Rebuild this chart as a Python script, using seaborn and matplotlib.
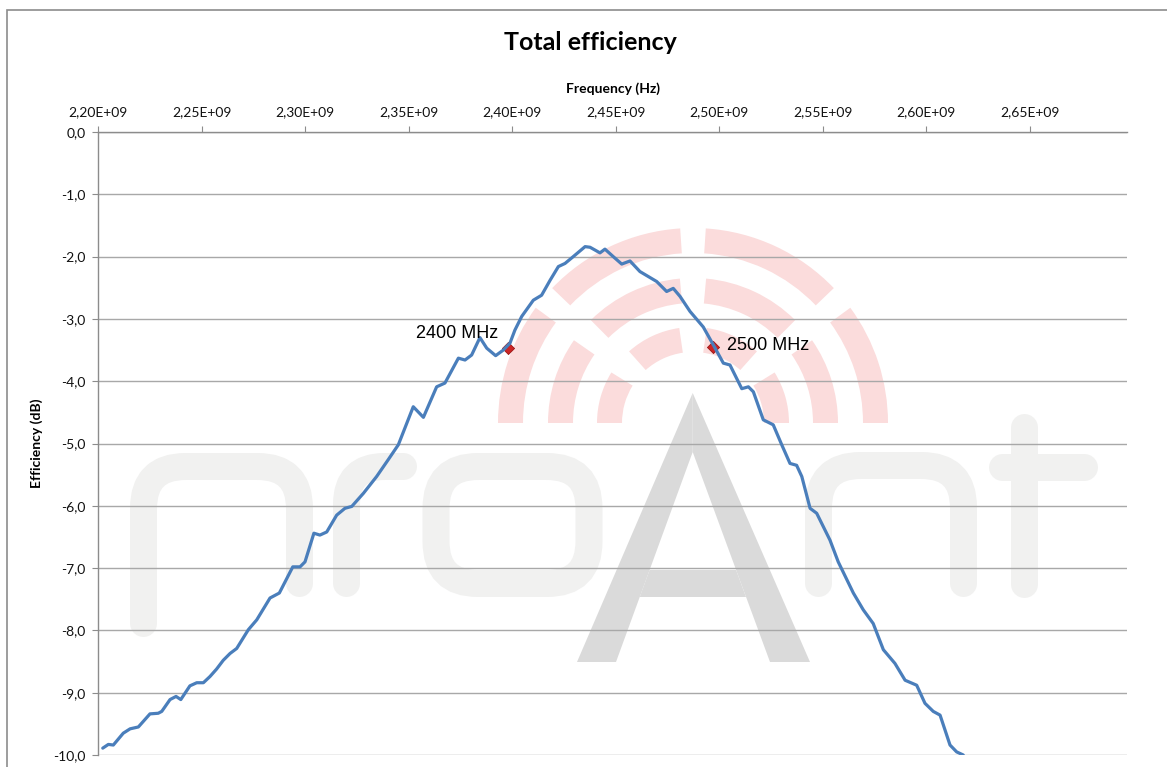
import numpy as np
import pandas as pd
import matplotlib
matplotlib.use("Agg")
import matplotlib.pyplot as plt
import seaborn as sns
from matplotlib.patches import Wedge, Polygon, Rectangle, PathPatch, FancyBboxPatch
from matplotlib.path import Path
from matplotlib.transforms import Affine2D
from matplotlib.ticker import FixedLocator, FuncFormatter

# ---------------- data ----------------
freq_mhz = [2202.3, 2205.0, 2207.4, 2212.2, 2215.5, 2219.5, 2225.1, 2229.1, 2230.8, 2234.8,
            2237.7, 2240.0, 2244.4, 2247.7, 2250.9, 2254.1, 2257.3, 2260.5, 2263.8, 2267.0,
            2272.6, 2276.7, 2283.1, 2287.6, 2294.1, 2297.6, 2300.0, 2304.3, 2307.2, 2310.5,
            2315.3, 2319.3, 2322.6, 2328.2, 2334.6, 2340.2, 2345.1, 2352.3, 2357.2, 2363.6,
            2367.6, 2374.1, 2377.3, 2380.5, 2384.5, 2387.8, 2392.1, 2395.8, 2399.0, 2401.4,
            2404.7, 2410.3, 2414.3, 2418.4, 2422.4, 2425.6, 2429.6, 2435.3, 2437.7, 2442.5,
            2444.9, 2448.9, 2453.0, 2457.0, 2461.8, 2469.9, 2474.7, 2477.9, 2481.2, 2486.0,
            2492.4, 2497.3, 2502.1, 2505.3, 2511.0, 2514.2, 2516.6, 2521.4, 2526.2, 2530.3,
            2534.3, 2537.5, 2540.0, 2544.0, 2547.2, 2553.6, 2557.6, 2564.9, 2569.7, 2574.5,
            2579.4, 2585.0, 2589.9, 2595.5, 2599.5, 2603.5, 2606.8, 2611.6, 2614.8, 2618.0]
efficiency_db = [-9.89, -9.83, -9.84, -9.65, -9.58, -9.55, -9.34, -9.33, -9.30, -9.11,
                 -9.06, -9.11, -8.89, -8.84, -8.84, -8.74, -8.62, -8.48, -8.37, -8.29,
                 -7.99, -7.83, -7.48, -7.40, -6.98, -6.98, -6.90, -6.44, -6.47, -6.42,
                 -6.15, -6.04, -6.01, -5.80, -5.53, -5.26, -5.02, -4.41, -4.58, -4.09,
                 -4.03, -3.63, -3.66, -3.58, -3.30, -3.47, -3.59, -3.50, -3.39, -3.18,
                 -2.96, -2.70, -2.62, -2.38, -2.16, -2.11, -2.00, -1.84, -1.85, -1.94,
                 -1.88, -2.00, -2.12, -2.07, -2.24, -2.40, -2.56, -2.51, -2.64, -2.88,
                 -3.13, -3.42, -3.71, -3.74, -4.12, -4.09, -4.17, -4.62, -4.70, -5.02,
                 -5.32, -5.35, -5.53, -6.04, -6.12, -6.55, -6.90, -7.40, -7.67, -7.89,
                 -8.31, -8.53, -8.80, -8.88, -9.17, -9.30, -9.36, -9.84, -9.95, -10.00]

marker_freq_mhz = [2398.0, 2497.0]
marker_eff_db = [-3.47, -3.45]
marker_labels = ["2400 MHz", "2500 MHz"]

x_ticks_ghz = [2.20, 2.25, 2.30, 2.35, 2.40, 2.45, 2.50, 2.55, 2.60, 2.65]
y_ticks_db = [0, -1, -2, -3, -4, -5, -6, -7, -8, -9, -10]

chart_title = "Total efficiency"
x_title = "Frequency (Hz)"
y_title = "Efficiency (dB)"

# ---------------- style ----------------
sns.set_theme(style="white")
plt.rcParams['font.family'] = ['Lato', 'DejaVu Sans']

W, H = 1167, 767
fig = plt.figure(figsize=(W / 100, H / 100), dpi=100)
fig.patch.set_facecolor("white")

AX_L, AX_R, AX_T, AX_B = 98, 1127, 132, 755
ax = fig.add_axes([AX_L / W, (H - AX_B) / H, (AX_R - AX_L) / W, (AX_B - AX_T) / H])
ax.set_facecolor("white")

df = pd.DataFrame({"freq_hz": np.array(freq_mhz) * 1e6, "eff": efficiency_db})
mk = pd.DataFrame({"freq_hz": np.array(marker_freq_mhz) * 1e6, "eff": marker_eff_db})

sns.lineplot(data=df, x="freq_hz", y="eff", ax=ax, color="#4a7ebb", linewidth=2.3,
             sort=False, estimator=None, zorder=3)
sns.scatterplot(data=mk, x="freq_hz", y="eff", ax=ax, marker="D", s=38,
                color="#cc2525", edgecolor="#9a1515", linewidth=0.6, zorder=2.6)

for fx, fy, lab, off, ha in zip(mk["freq_hz"], mk["eff"], marker_labels,
                                [(-9.7, 10.5), (14, -2.8)], ["right", "left"]):
    ax.annotate(lab, (fx, fy), xytext=off, textcoords="offset pixels", ha=ha,
                va="baseline", fontsize=13, family=["Liberation Sans", "DejaVu Sans"],
                color="black", zorder=5)

# axes limits and ticks
x_max = 2.20e9 + (AX_R - AX_L) / 103.5 * 0.05e9
ax.set_xlim(2.20e9, x_max)
ax.set_ylim(-10, 0)
ax.xaxis.tick_top()
ax.xaxis.set_label_position("top")
ax.xaxis.set_major_locator(FixedLocator([v * 1e9 for v in x_ticks_ghz]))
ax.yaxis.set_major_locator(FixedLocator(y_ticks_db))
ax.xaxis.set_major_formatter(FuncFormatter(lambda v, p: f"{v / 1e9:.2f}".replace(".", ",") + "E+09"))
ax.yaxis.set_major_formatter(FuncFormatter(lambda v, p: f"{v:.1f}".replace(".", ",")))
ax.tick_params(axis="x", which="major", top=True, bottom=False, labeltop=True, labelbottom=False,
               direction="out", length=4, width=0.8, color="#8c8c8c", pad=6,
               labelsize=10, labelcolor="#111111")
ax.tick_params(axis="y", which="major", left=True, right=False, direction="out", length=4,
               width=0.8, color="#8c8c8c", pad=5, labelsize=10, labelcolor="#111111")

ax.set_axisbelow(True)
ax.yaxis.grid(True, color="#a8a8a8", linewidth=1.0)
ax.xaxis.grid(False)
for side in ["right", "bottom"]:
    ax.spines[side].set_visible(False)
for side in ["left", "top"]:
    ax.spines[side].set_visible(True)
    ax.spines[side].set_color("#8c8c8c")
    ax.spines[side].set_linewidth(1.0)

ax.set_xlabel(x_title, fontsize=10, fontweight="bold", color="black")
ax.set_ylabel(y_title, fontsize=10, fontweight="bold", color="black")
ax.xaxis.set_label_coords(0.5, 1 + (AX_T - 89) / (AX_B - AX_T))
ax.xaxis.label.set_va("center")
ax.yaxis.set_label_coords((37 - AX_L) / (AX_R - AX_L), 0.5)
ax.yaxis.label.set_va("center")

fig.text(590 / W, 1 - 50 / H, chart_title, ha="center", va="baseline",
         fontsize=18, fontweight="bold", color="black")

# chart border (only top and left visible)
fig.patches.append(Rectangle((7 / W, -0.1), 1.2, 1.1 - 9.5 / H, transform=fig.transFigure,
                             fill=False, edgecolor="#8c8c8c", linewidth=1.2))

# ---------------- watermark logo (decoration) ----------------
px = Affine2D().scale(1 / 100) + fig.dpi_scale_trans


def P(x, y):
    return (x, H - y)


LETTER = "#f1f1f0"
A_GREY = "#dadada"
PINK = "#fbdcdc"
SW = 27


def open_rounded(pts, r):
    pts = [np.array(P(*p), float) for p in pts]
    verts, codes = [pts[0]], [Path.MOVETO]
    for i in range(1, len(pts) - 1):
        a, b, c = pts[i - 1], pts[i], pts[i + 1]
        u = (a - b) / np.linalg.norm(a - b)
        v = (c - b) / np.linalg.norm(c - b)
        verts += [b + u * r, b, b + v * r]
        codes += [Path.LINETO, Path.CURVE3, Path.CURVE3]
    verts.append(pts[-1])
    codes.append(Path.LINETO)
    return Path(verts, codes)


def stroke(pts, r=42):
    ax.add_patch(PathPatch(open_rounded(pts, r), fill=False, edgecolor=LETTER,
                           linewidth=SW * 0.72, capstyle="round", joinstyle="round",
                           transform=px, zorder=0.2))


# p
stroke([(143.5, 623.5), (143.5, 466.5), (299.5, 466.5), (299.5, 583.5)])
# r
stroke([(346.5, 583.5), (346.5, 466.5), (403.5, 466.5)], r=38)
# o
ax.add_patch(FancyBboxPatch(P(436, 583.5), 589 - 436, 583.5 - 466.5,
                            boxstyle="round,pad=0,rounding_size=42", fill=False,
                            edgecolor=LETTER, linewidth=SW * 0.72, transform=px, zorder=0.2))
# n
stroke([(818.5, 583.5), (818.5, 465.5), (963.5, 465.5), (963.5, 583.5)])
# t
stroke([(1024, 426.5), (1024, 583.5)], r=1)
stroke([(1001.5, 466.5), (1083.5, 466.5)], r=1)

# radio arcs
cx, cy = 693, 423
gaps = [40, 90, 140]
for r_out, r_in in [(195, 170), (145, 120), (96, 71)]:
    rm = (r_out + r_in) / 2
    half = np.degrees(12 / rm)
    edges = [0] + [g for gap in gaps for g in (gap - half, gap + half)] + [180]
    for t1, t2 in zip(edges[0::2], edges[1::2]):
        ax.add_patch(Wedge(P(cx, cy), r_out, t1, t2, width=r_out - r_in, facecolor=PINK,
                           edgecolor="none", transform=px, zorder=0.15))

# A
ax.add_patch(Polygon([P(692.7, 393), P(577, 662), P(616, 662), P(692.7, 452)],
                     closed=True, facecolor=A_GREY, edgecolor="none", transform=px, zorder=0.25))
ax.add_patch(Polygon([P(692.7, 393), P(692.7, 452), P(770, 662), P(810, 662)],
                     closed=True, facecolor=A_GREY, edgecolor="none", transform=px, zorder=0.25))
ax.add_patch(Polygon([P(649.6, 570), P(736.1, 570), P(746.0, 597), P(639.7, 597)],
                     closed=True, facecolor=A_GREY, edgecolor="none", transform=px, zorder=0.25))

fig.savefig("out.png", dpi=100, facecolor="white")
